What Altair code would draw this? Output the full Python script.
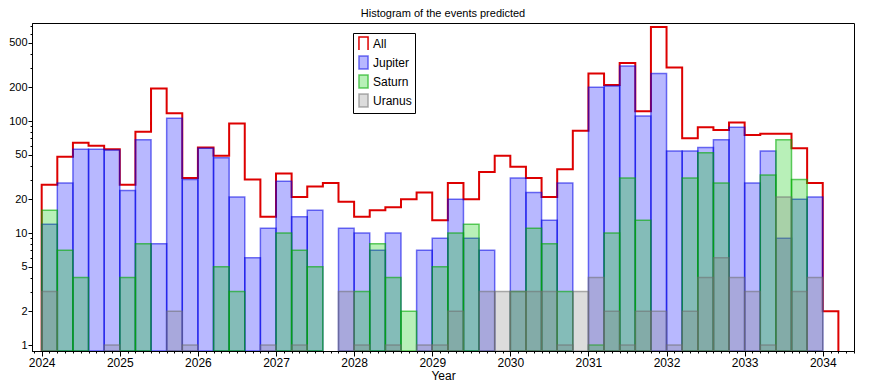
import altair as alt
import pandas as pd

# ---- data (counts per 0.2-year bin, 2024.0 .. 2034.2) ----
series_names = ["All", "Jupiter", "Saturn", "Uranus"]

all_counts = [27, 48, 64, 60, 56, 27, 80, 195, 117, 31,
              58, 49, 95, 30, 14, 34, 21, 26, 28, 19,
              14, 16, 17, 20, 23, 13, 28, 20, 35, 49,
              39, 31, 21, 37, 82, 265, 210, 330, 122, 690,
              300, 70, 88, 83, 97, 75, 77, 77, 57, 28,
              2]

jupiter = [12, 28, 56, 56, 55, 24, 68, 8, 106, 30,
           57, 47, 21, 6, 11, 29, 14, 16, None, 11,
           10, 7, 10, None, 7, 9, 20, 9, 7, None,
           31, 23, 13, 28, None, 200, 205, 310, 111, 265,
           54, 54, 58, 68, 88, 28, 54, 9, 20, 21,
           None]

saturn = [16, 7, 4, None, None, 4, 8, None, None, None,
          None, 5, 3, None, None, 10, 7, 5, None, None,
          3, 8, 4, 2, None, 5, 10, 12, None, None,
          3, 11, 8, 3, None, 1, 10, 31, 13, None,
          None, 31, 52, 28, None, None, 33, 68, 30, None,
          None]

uranus = [3, None, None, None, 1, None, None, None, 2, 1,
          None, None, None, None, 1, None, 1, None, None, 3,
          1, None, 1, None, 1, 1, 2, None, 3, 3,
          3, 3, 3, 1, 3, 4, 2, 1, 2, 2,
          1, 2, 4, 6, 4, 3, 1, 21, 3, 4,
          None]

y_major = [1, 2, 5, 10, 20, 50, 100, 200, 500]

first_year = 2024.0
bin_width = 0.2

fill_colors = ["transparent", "rgba(0,0,255,0.28)", "rgba(0,200,0,0.28)", "rgba(128,128,128,0.28)"]
stroke_colors = ["#dd0000", "rgba(0,0,230,0.55)", "rgba(0,170,0,0.6)", "rgba(110,110,110,0.55)"]
legend_shapes = ["M-0.7,1V-1H0.7V1", "M-0.7,1V-1H0.7V1Z", "M-0.7,1V-1H0.7V1Z", "M-0.7,1V-1H0.7V1Z"]

# ---- tables ----
n = len(all_counts)
starts = [round(first_year + bin_width * i, 1) for i in range(n)]
ends = [round(s + bin_width, 1) for s in starts]

rows = []
for name, vals in [("Jupiter", jupiter), ("Saturn", saturn), ("Uranus", uranus)]:
    for s, e, v in zip(starts, ends, vals):
        if v is not None:
            rows.append({"series": name, "start": s, "end": e, "count": v})
bars_df = pd.DataFrame(rows)

BASE = 0.884
step_x = [starts[0]] + starts + [ends[-1], ends[-1]]
step_y = [BASE] + all_counts + [all_counts[-1], BASE]
step_df = pd.DataFrame({"x": step_x, "count": step_y, "order": list(range(len(step_x)))})

legend_df = pd.DataFrame({"series": series_names})

x_scale = alt.Scale(domain=[2023.876, 2034.40], nice=False, zero=False)
y_scale = alt.Scale(type="log", domain=[BASE, 750], nice=False)

x_ticks = [round(2023.9 + 0.1 * k, 1) for k in range(106)]
y_ticks = [m * d for d in (1, 10, 100) for m in range(1, 10) if m * d <= 750]

major_x_test = "abs(datum.value - round(datum.value)) < 0.001"
major_y_test = " || ".join(f"datum.value == {v}" for v in y_major)

x_axis = alt.Axis(
    values=x_ticks,
    labelExpr=f"({major_x_test}) ? '' + round(datum.value) : ''",
    tickSize={"condition": {"test": major_x_test, "value": 5}, "value": 2},
    labelOverlap=False, labelFlush=False, grid=False, labelPadding=1, titlePadding=2,
    labelFontSize=12,
)
y_axis = alt.Axis(
    values=y_ticks,
    labelExpr=f"({major_y_test}) ? '' + datum.value : ''",
    tickSize={"condition": {"test": major_y_test, "value": 4}, "value": 2},
    labelOverlap=False, labelFlush=False, grid=False, labelPadding=1,
    labelFontSize=11,
)

legend = alt.Legend(
    title=None, orient="none", legendX=321, legendY=10,
    fillColor="white", strokeColor="black", padding=3, rowPadding=0,
    symbolSize=169, symbolStrokeWidth=1.5,
    labelFont="Liberation Sans", labelFontSize=12, labelOffset=2, labelColor="black",
)

fill_scale = alt.Scale(domain=series_names, range=fill_colors)
stroke_scale = alt.Scale(domain=series_names, range=stroke_colors)

line = alt.Chart(step_df).mark_line(
    interpolate="step-after", color="#dd0000", strokeWidth=2, clip=True
).encode(
    x=alt.X("x:Q", scale=x_scale, axis=x_axis, title="Year"),
    y=alt.Y("count:Q", scale=y_scale, axis=y_axis, title=None),
    order="order:Q",
)

bars = alt.Chart(bars_df).mark_rect(strokeWidth=1.5, clip=True).encode(
    x=alt.X("start:Q", scale=x_scale, axis=x_axis, title="Year"),
    x2="end:Q",
    y=alt.Y("count:Q", scale=y_scale, axis=y_axis, title=None),
    y2=alt.datum(BASE),
    fill=alt.Fill("series:N", scale=fill_scale, legend=legend),
    stroke=alt.Stroke("series:N", scale=stroke_scale, legend=legend),
)

# legend-only layer: its rows are filtered out, so it draws nothing but supplies the symbol shapes
legend_layer = alt.Chart(legend_df).transform_filter("false").mark_point(
    opacity=1, strokeWidth=1.5, filled=True
).encode(
    fill=alt.Fill("series:N", scale=fill_scale, legend=legend),
    stroke=alt.Stroke("series:N", scale=stroke_scale, legend=legend),
    shape=alt.Shape("series:N", scale=alt.Scale(domain=series_names, range=legend_shapes), legend=legend),
)

chart = alt.layer(line, bars, legend_layer).properties(
    width=822, height=328,
    title=alt.TitleParams("Histogram of the events predicted", font="Liberation Sans", fontSize=11,
                          fontWeight="normal", color="black", offset=1,
                          anchor="middle", frame="group"),
    padding={"left": 24, "top": 15, "right": 8, "bottom": 32},
    autosize="none",
    background="white",
).configure_view(stroke="black", strokeWidth=1).configure_axis(
    domainColor="black", tickColor="black", labelColor="black", titleColor="black",
    labelFont="Liberation Sans", titleFont="Liberation Sans",
    titleFontSize=12, titleFontWeight="normal",
)

chart.save("out.html", embed_options={"renderer": "svg", "actions": False})
